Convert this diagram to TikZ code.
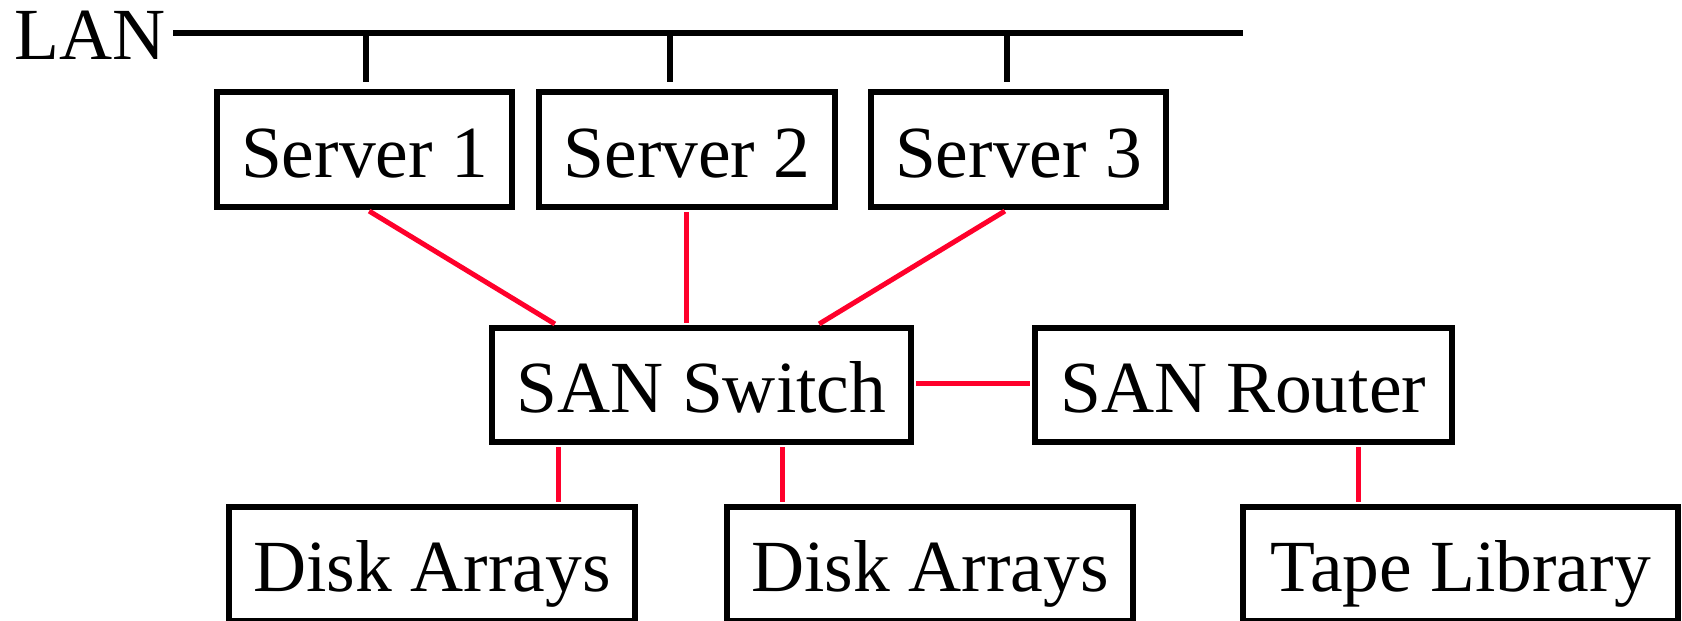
\documentclass[tikz,border=0pt]{standalone}
\usepackage{fontspec}
\setmainfont{Liberation Serif}
\definecolor{sanred}{RGB}{255,0,43}
\tikzset{
  box/.style={draw=black, line width=5.5pt, rectangle, inner sep=0pt,
    minimum height=115pt, text height=55pt, text depth=0pt,
    font=\fontsize{73.5}{80}\selectfont},
  lanline/.style={draw=black, line width=5.5pt},
  sanlink/.style={draw=sanred, line width=5pt, shorten <=2.5pt, shorten >=2.5pt}
}
\begin{document}
\begin{tikzpicture}[x=1pt,y=-1pt]
\useasboundingbox (0,0) rectangle (1682,621);
% LAN
\node[anchor=base west, inner sep=0pt, font=\fontsize{73.5}{80}\selectfont] (lan) at (14,59) {LAN};
\coordinate (lanL) at (173,33);
\coordinate (lanR) at (1243,33);
\coordinate (t1) at (366,33);
\coordinate (t2) at (670,33);
\coordinate (t3) at (1007,33);
% boxes
\node[box, minimum width=295pt] (s1) at (364.5,149.5) {Server 1};
\node[box, minimum width=296pt] (s2) at (687,149.5) {Server 2};
\node[box, minimum width=295pt] (s3) at (1018.5,149.5) {Server 3};
\node[box, minimum width=419pt, minimum height=114pt] (sw) at (701.5,385) {SAN Switch};
\node[box, minimum width=417pt, minimum height=114pt] (rt) at (1243.5,385) {SAN Router};
\node[box, minimum width=406pt, minimum height=114pt] (d1) at (432,564) {Disk Arrays};
\node[box, minimum width=406pt, minimum height=114pt] (d2) at (930,564) {Disk Arrays};
\node[box, minimum width=435pt, minimum height=114pt] (tp) at (1460.5,564) {Tape Library};
% LAN bus and stubs
\draw[lanline] (lanL) -- (lanR);
\draw[lanline, shorten >=7pt] (t1) -- (t1 |- s1.north);
\draw[lanline, shorten >=7pt] (t2) -- (t2 |- s2.north);
\draw[lanline, shorten >=7pt] (t3) -- (t3 |- s3.north);
% SAN links
\draw[sanlink] ([xshift=2.5pt]s1.south) -- ([xshift=-144.5pt]sw.north);
\draw[sanlink] ([xshift=-1pt]s2.south) -- ([xshift=-15.5pt]sw.north);
\draw[sanlink] ([xshift=-11.5pt]s3.south) -- ([xshift=115.5pt]sw.north);
\draw[sanlink] ([yshift=2pt]sw.east) -- ([yshift=2pt]rt.west);
\draw[sanlink] ([xshift=-143.5pt]sw.south) -- ([xshift=-143.5pt]sw.south |- d1.north);
\draw[sanlink] ([xshift=80.5pt]sw.south) -- ([xshift=80.5pt]sw.south |- d2.north);
\draw[sanlink] ([xshift=114.5pt]rt.south) -- ([xshift=114.5pt]rt.south |- tp.north);
\end{tikzpicture}
\end{document}
